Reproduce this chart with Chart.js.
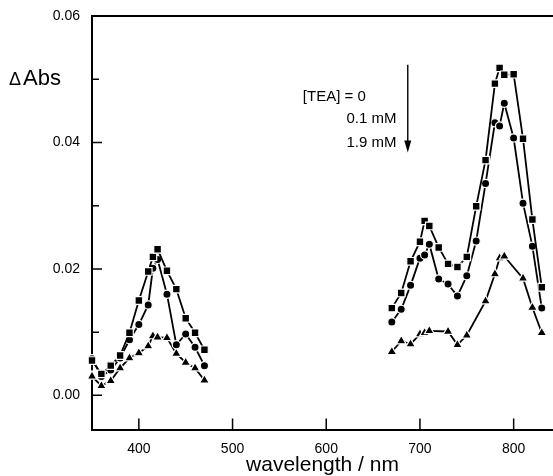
<!DOCTYPE html>
<html>
<head>
<meta charset="utf-8">
<script src="https://cdn.jsdelivr.net/npm/chart.js@4.4.1/dist/chart.umd.min.js"></script>
<style>
    html, body { margin: 0; padding: 0; background: #fff; overflow: hidden; }
    #chart-box { position: relative; width: 553px; height: 476px; }
</style>
</head>
<body>
<div id="chart-box"><canvas id="abs-chart"></canvas></div>
<script>
// wavelengths (nm)
const wl_blue = [350, 360, 370, 380, 390, 400, 410, 415, 420, 430, 440, 450, 460, 470];
const wl_red = [670, 680, 690, 700, 705, 710, 720, 730, 740, 750, 760, 770, 780, 785, 790, 800, 810, 820, 830];
const wl_red_19 = [670, 680, 690, 700, 705, 710, 730, 740, 750, 770, 780, 785, 790, 810, 820, 830];

// delta Abs, [TEA] = 0
const abs_0_blue = [0.0055, 0.0034, 0.0047, 0.0063, 0.0099, 0.0150, 0.0196, 0.0219, 0.0231, 0.0197, 0.0168, 0.0122, 0.0099, 0.0072];
const abs_0_red = [0.0138, 0.0162, 0.0212, 0.0243, 0.0276, 0.0268, 0.0234, 0.0208, 0.0203, 0.0219, 0.0299, 0.0372, 0.0493, 0.0518, 0.0507, 0.0508, 0.0406, 0.0278, 0.0171];

// delta Abs, 0.1 mM
const abs_01_blue = [0.0058, 0.0030, 0.0040, 0.0059, 0.0088, 0.0112, 0.0143, 0.0201, 0.0215, 0.0160, 0.0080, 0.0097, 0.0076, 0.0047];
const abs_01_red = [0.0116, 0.0136, 0.0174, 0.0217, 0.0222, 0.0239, 0.0184, 0.0176, 0.0157, 0.0189, 0.0244, 0.0335, 0.0431, 0.0426, 0.0462, 0.0407, 0.0304, 0.0236, 0.0138];

// delta Abs, 1.9 mM
const abs_19_blue = [0.0030, 0.0015, 0.0023, 0.0043, 0.0059, 0.0067, 0.0078, 0.0094, 0.0092, 0.0091, 0.0066, 0.0052, 0.0043, 0.0024];
const abs_19_red = [0.0069, 0.0086, 0.0081, 0.0097, 0.0099, 0.0102, 0.0101, 0.0080, 0.0095, 0.0149, 0.0192, 0.0217, 0.0220, 0.0185, 0.0139, 0.0099];

const x_ticks = [400, 500, 600, 700, 800];
const y_ticks = [0, 0.01, 0.02, 0.03, 0.04, 0.05, 0.06];
const y_labels = ["0.00", "", "0.02", "", "0.04", "", "0.06"];
const tea_labels = ["[TEA] = 0", "0.1 mM", "1.9 mM"];

const FONT = "'Liberation Sans', Arial, Helvetica, sans-serif";

function make_series(wl, values, shape, radius) {
    return {
        data: wl.map((w, i) => ({ x: w, y: values[i] })),
        borderColor: '#000',
        borderWidth: 1.8,
        backgroundColor: '#000',
        pointStyle: shape,
        pointRadius: radius,
        pointBackgroundColor: '#000',
        pointBorderColor: '#fff',
        pointBorderWidth: 1.2,
        tension: 0,
        clip: false
    };
}

function no_scale_padding(scale) {
    scale.paddingLeft = 0;
    scale.paddingRight = 0;
    scale.paddingTop = 0;
    scale.paddingBottom = 0;
}

// ticks pointing into the plot, the top frame line, and the annotation
const frame_and_notes = {
    id: 'frame_and_notes',
    afterDraw: function(chart) {
        const ctx = chart.ctx;
        const area = chart.chartArea;
        const sx = chart.scales.x;
        const sy = chart.scales.y;

        ctx.save();
        ctx.strokeStyle = '#000';
        ctx.lineWidth = 2;
        ctx.beginPath();
        ctx.moveTo(area.left - 1, area.top);
        ctx.lineTo(chart.width, area.top);
        ctx.stroke();

        ctx.lineWidth = 1.5;
        ctx.beginPath();
        x_ticks.forEach((v) => {
            let px = sx.getPixelForValue(v);
            ctx.moveTo(px, area.bottom);
            ctx.lineTo(px, area.bottom - 11);
        });
        y_ticks.forEach((v, i) => {
            let py = sy.getPixelForValue(v);
            ctx.moveTo(area.left, py);
            ctx.lineTo(area.left + (y_labels[i] ? 10 : 7), py);
        });
        ctx.stroke();

        // arrow
        let ax = sx.getPixelForValue(687);
        let ay0 = sy.getPixelForValue(0.0523);
        let ay1 = sy.getPixelForValue(0.0384);
        ctx.lineWidth = 1.4;
        ctx.beginPath();
        ctx.moveTo(ax, ay0);
        ctx.lineTo(ax, ay1 - 10);
        ctx.stroke();
        ctx.fillStyle = '#000';
        ctx.beginPath();
        ctx.moveTo(ax - 3.5, ay1 - 12);
        ctx.lineTo(ax + 3.5, ay1 - 12);
        ctx.lineTo(ax, ay1);
        ctx.closePath();
        ctx.fill();

        // concentration labels
        ctx.font = '15px ' + FONT;
        ctx.textBaseline = 'middle';
        ctx.textAlign = 'left';
        ctx.fillText(tea_labels[0], sx.getPixelForValue(575), sy.getPixelForValue(0.0472));
        ctx.textAlign = 'right';
        ctx.fillText(tea_labels[1], sx.getPixelForValue(675), sy.getPixelForValue(0.0437));
        ctx.fillText(tea_labels[2], sx.getPixelForValue(675), sy.getPixelForValue(0.0400));

        // y axis name
        let ty = sy.getPixelForValue(0.05);
        ctx.textAlign = 'left';
        ctx.font = '18px ' + FONT;
        ctx.fillText('\u0394', 9, ty + 1);
        ctx.font = '22px ' + FONT;
        ctx.fillText('Abs', 23, ty);
        ctx.restore();
    }
};

function draw_abs_chart() {
    var datasets = [
        make_series(wl_blue, abs_0_blue, 'rect', 5.4),
        make_series(wl_red, abs_0_red, 'rect', 5.4),
        make_series(wl_blue, abs_01_blue, 'circle', 4.1),
        make_series(wl_red, abs_01_red, 'circle', 4.1),
        make_series(wl_blue, abs_19_blue, 'triangle', 5.6),
        make_series(wl_red_19, abs_19_red, 'triangle', 5.6)
    ];

    return new Chart(document.getElementById('abs-chart'), {
        type: 'line',
        data: { datasets: datasets },
        options: {
            responsive: true,
            maintainAspectRatio: false,
            animation: false,
            layout: {
                autoPadding: false,
                padding: { top: 16, right: 0, bottom: 0, left: 0 }
            },
            plugins: {
                legend: { display: false },
                tooltip: { enabled: false }
            },
            scales: {
                x: {
                    type: 'linear',
                    min: 350,
                    max: 842,
                    afterBuildTicks: (scale) => { scale.ticks = x_ticks.map((v) => ({ value: v })); },
                    afterFit: (scale) => { scale.height = 46.5; no_scale_padding(scale); },
                    grid: { display: false, drawTicks: false },
                    border: { display: true, color: '#000', width: 2 },
                    ticks: {
                        color: '#000',
                        padding: 11,
                        font: { family: FONT, size: 14 },
                        callback: (v) => String(v)
                    },
                    title: {
                        display: true,
                        text: 'wavelength / nm',
                        color: '#000',
                        font: { family: FONT, size: 21 },
                        padding: { top: 0, bottom: -2 }
                    }
                },
                y: {
                    type: 'linear',
                    min: -0.0054,
                    max: 0.06,
                    afterBuildTicks: (scale) => { scale.ticks = y_ticks.map((v) => ({ value: v })); },
                    afterFit: (scale) => { scale.width = 92; no_scale_padding(scale); },
                    grid: { display: false, drawTicks: false },
                    border: { display: true, color: '#000', width: 2 },
                    ticks: {
                        color: '#000',
                        padding: 12,
                        font: { family: FONT, size: 14 },
                        callback: (v, i) => y_labels[i]
                    }
                }
            }
        },
        plugins: [frame_and_notes]
    });
}

draw_abs_chart();
</script>
</body>
</html>
